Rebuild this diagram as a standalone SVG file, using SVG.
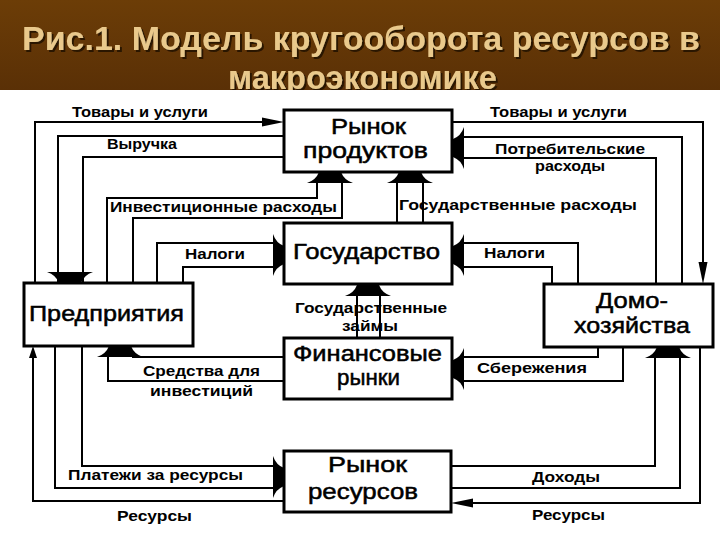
<svg xmlns="http://www.w3.org/2000/svg" xmlns:xlink="http://www.w3.org/1999/xlink" width="720" height="540" viewBox="0 0 720 540">
  <defs>
    <linearGradient id="bar" x1="0" y1="0" x2="0" y2="1">
      <stop offset="0" stop-color="#6c3d07"/>
      <stop offset="1" stop-color="#5a3006"/>
    </linearGradient>
    <filter id="shd" x="-5%" y="-20%" width="110%" height="150%">
      <feDropShadow dx="2" dy="2" stdDeviation="0.6" flood-color="#2a1600" flood-opacity="1"/>
    </filter>
    <path id="wide" d="M-23,11 L23,11 Q14,8 11,0 L-11,0 Q-14,8 -23,11 Z"/>
    <path id="wideH" d="M-21,11 L21,11 Q12,8 9,0 L-9,0 Q-12,8 -21,11 Z"/>
    <path id="thin" d="M-4.5,22 L4.5,22 L0,0 Z"/>
    <path id="thinS" d="M-4,12 L4,12 L0,0 Z"/>
    <style>
      .title{font-family:"Liberation Sans",Arial,sans-serif;font-weight:bold;font-size:33px;fill:#e9c98c}
      .box{fill:#fff;stroke:#000;stroke-width:3}
      .node{font-family:"Liberation Sans",Arial,sans-serif;font-size:22px;fill:#000;stroke:#000;stroke-width:0.5}
      .lbl{font-family:"Liberation Sans",Arial,sans-serif;font-weight:bold;font-size:15px;fill:#000}
      .ln{fill:none;stroke:#000;stroke-width:2}
      .ah{fill:#000}
    </style>
  </defs>

  <rect x="0" y="0" width="720" height="540" fill="#fff"/>

  <g id="title">
    <rect x="0" y="0" width="720" height="90" fill="url(#bar)"/>
    <g filter="url(#shd)">
      <text class="title" x="22" y="50" textLength="678" lengthAdjust="spacingAndGlyphs">Рис.1. Модель кругооборота ресурсов в</text>
      <text class="title" x="228" y="89" textLength="269" lengthAdjust="spacingAndGlyphs">макроэкономике</text>
    </g>
    <rect x="0" y="90" width="720" height="20" fill="#fff"/>
  </g>

  <g id="connectors">
    <polyline class="ln" points="35,283 35,122 262,122"/>
    <polyline class="ln" points="58,283 58,136 283,136"/>
    <polyline class="ln" points="83,283 83,157 283,157"/>
    <polyline class="ln" points="107,283 107,198 317,198 317,180"/>
    <polyline class="ln" points="133,283 133,218 342,218 342,180"/>
    <polyline class="ln" points="157,283 157,243 275,243"/>
    <polyline class="ln" points="183,283 183,267 275,267"/>
    <polyline class="ln" points="453,122 703,122 703,262"/>
    <polyline class="ln" points="682,283 682,137 460,137"/>
    <polyline class="ln" points="656,283 656,158 460,158"/>
    <polyline class="ln" points="397,223 397,180"/>
    <polyline class="ln" points="423,223 423,180"/>
    <polyline class="ln" points="578,283 578,243 460,243"/>
    <polyline class="ln" points="552,283 552,267 460,267"/>
    <polyline class="ln" points="357,338 357,292"/>
    <polyline class="ln" points="380,338 380,292"/>
    <polyline class="ln" points="283,357 133,357 133,354"/>
    <polyline class="ln" points="283,381 108,381 108,354"/>
    <polyline class="ln" points="598,347 598,357 460,357"/>
    <polyline class="ln" points="623,347 623,381 460,381"/>
    <polyline class="ln" points="33,356 33,501 283,501"/>
    <polyline class="ln" points="55,346 55,488 275,488"/>
    <polyline class="ln" points="82,346 82,466 275,466"/>
    <polyline class="ln" points="680,354 680,488 451,488"/>
    <polyline class="ln" points="655,354 655,466 451,466"/>
    <polyline class="ln" points="700,347 700,503 470,503"/>

    <use xlink:href="#thin" class="ah" transform="translate(284,122) rotate(90)"/>
    <use xlink:href="#wide" class="ah" transform="translate(70,283) rotate(180)"/>
    <use xlink:href="#wide" class="ah" transform="translate(330,172)"/>
    <use xlink:href="#wideH" class="ah" transform="translate(284,255) rotate(90)"/>
    <use xlink:href="#thin" class="ah" transform="translate(703,284) rotate(180)"/>
    <use xlink:href="#wideH" class="ah" transform="translate(453,148) rotate(-90)"/>
    <use xlink:href="#wide" class="ah" transform="translate(410,172)"/>
    <use xlink:href="#wideH" class="ah" transform="translate(453,255) rotate(-90)"/>
    <use xlink:href="#wide" class="ah" transform="translate(368,285)"/>
    <use xlink:href="#wide" class="ah" transform="translate(120,346)"/>
    <use xlink:href="#wideH" class="ah" transform="translate(453,369) rotate(-90)"/>
    <use xlink:href="#thinS" class="ah" transform="translate(33,346)"/>
    <use xlink:href="#wideH" class="ah" transform="translate(284,477) rotate(90)"/>
    <use xlink:href="#wide" class="ah" transform="translate(668,347)"/>
    <use xlink:href="#thin" class="ah" transform="translate(451,503) rotate(-90)"/>

    <text class="lbl" x="72" y="117" textLength="136" lengthAdjust="spacingAndGlyphs">Товары и услуги</text>
    <text class="lbl" x="107" y="149" textLength="70" lengthAdjust="spacingAndGlyphs">Выручка</text>
    <text class="lbl" x="110" y="212" textLength="227" lengthAdjust="spacingAndGlyphs">Инвестиционные расходы</text>
    <text class="lbl" x="490" y="117" textLength="137" lengthAdjust="spacingAndGlyphs">Товары и услуги</text>
    <text class="lbl" x="495" y="154" textLength="150" lengthAdjust="spacingAndGlyphs">Потребительские</text>
    <text class="lbl" x="535" y="171" textLength="70" lengthAdjust="spacingAndGlyphs">расходы</text>
    <text class="lbl" x="399" y="210" textLength="238" lengthAdjust="spacingAndGlyphs">Государственные расходы</text>
    <text class="lbl" x="185" y="259" textLength="60" lengthAdjust="spacingAndGlyphs">Налоги</text>
    <text class="lbl" x="484" y="258" textLength="61" lengthAdjust="spacingAndGlyphs">Налоги</text>
    <text class="lbl" x="295" y="313" textLength="152" lengthAdjust="spacingAndGlyphs">Государственные</text>
    <text class="lbl" x="342" y="331" textLength="56" lengthAdjust="spacingAndGlyphs">займы</text>
    <text class="lbl" x="143" y="376" textLength="117" lengthAdjust="spacingAndGlyphs">Средства для</text>
    <text class="lbl" x="150" y="396" textLength="103" lengthAdjust="spacingAndGlyphs">инвестиций</text>
    <text class="lbl" x="477" y="373" textLength="110" lengthAdjust="spacingAndGlyphs">Сбережения</text>
    <text class="lbl" x="68" y="480" textLength="175" lengthAdjust="spacingAndGlyphs">Платежи за ресурсы</text>
    <text class="lbl" x="117" y="521" textLength="75" lengthAdjust="spacingAndGlyphs">Ресурсы</text>
    <text class="lbl" x="532" y="482" textLength="68" lengthAdjust="spacingAndGlyphs">Доходы</text>
    <text class="lbl" x="532" y="520" textLength="73" lengthAdjust="spacingAndGlyphs">Ресурсы</text>
  </g>

  <g id="product-market">
    <rect class="box" x="284" y="110" width="168" height="62"/>
    <text class="node" x="331" y="134" textLength="75" lengthAdjust="spacingAndGlyphs">Рынок</text>
    <text class="node" x="303" y="158" textLength="125" lengthAdjust="spacingAndGlyphs">продуктов</text>
  </g>
  <g id="state">
    <rect class="box" x="284" y="223" width="168" height="61"/>
    <text class="node" x="293" y="259" textLength="147" lengthAdjust="spacingAndGlyphs">Государство</text>
  </g>
  <g id="financial-markets">
    <rect class="box" x="284" y="338" width="168" height="61"/>
    <text class="node" x="293" y="361" textLength="149" lengthAdjust="spacingAndGlyphs">Финансовые</text>
    <text class="node" x="337" y="385" textLength="63" lengthAdjust="spacingAndGlyphs">рынки</text>
  </g>
  <g id="resource-market">
    <rect class="box" x="284" y="451" width="167" height="61"/>
    <text class="node" x="328" y="472" textLength="79" lengthAdjust="spacingAndGlyphs">Рынок</text>
    <text class="node" x="308" y="499" textLength="110" lengthAdjust="spacingAndGlyphs">ресурсов</text>
  </g>
  <g id="firms">
    <rect class="box" x="24" y="283" width="169" height="63"/>
    <text class="node" x="29" y="321" textLength="155" lengthAdjust="spacingAndGlyphs">Предприятия</text>
  </g>
  <g id="households">
    <rect class="box" x="544" y="284" width="169" height="63"/>
    <text class="node" x="596" y="308" textLength="72" lengthAdjust="spacingAndGlyphs">Домо-</text>
    <text class="node" x="574" y="333" textLength="116" lengthAdjust="spacingAndGlyphs">хозяйства</text>
  </g>
</svg>
